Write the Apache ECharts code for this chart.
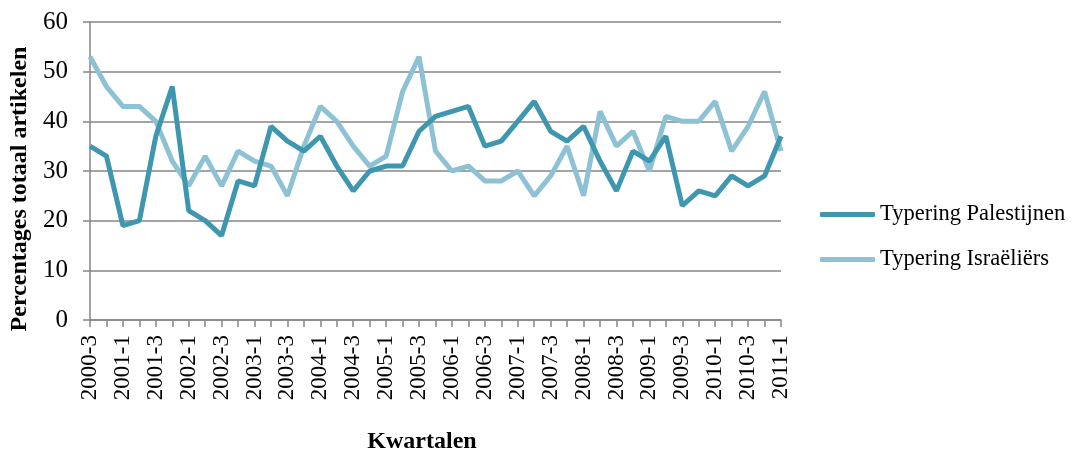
<!DOCTYPE html>
<html>
<head>
<meta charset="utf-8">
<script src="https://cdn.jsdelivr.net/npm/echarts@6/dist/echarts.min.js"></script>
<style>
html,body{margin:0;padding:0;background:#fff;}
#chart{width:1091px;height:457px;}
</style>
</head>
<body>
<div id="chart"></div>
<script>
const years = [2000,2001,2002,2003,2004,2005,2006,2007,2008,2009,2010,2011];
const categories = [];
for (const y of years) {
  for (let q = 1; q <= 4; q++) {
    if (y === 2000 && q < 3) continue;
    if (y === 2011 && q > 1) continue;
    categories.push(y + '-' + q);
  }
}
const palestijnen = [35,33,19,20,37,47,22,20,17,28,27,39,36,34,37,31,26,30,31,31,38,41,42,43,35,36,40,44,38,36,39,32,26,34,32,37,23,26,25,29,27,29,37];
const israeliers  = [53,47,43,43,40,32,27,33,27,34,32,31,25,35,43,40,35,31,33,46,53,34,30,31,28,28,30,25,29,35,25,42,35,38,30,41,40,40,44,34,39,46,34];
const seriesNames = ['Typering Palestijnen', 'Typering Israëliërs'];
const yTicks = [0,10,20,30,40,50,60];

const font = '"Liberation Serif", "DejaVu Serif", serif';
const chart = echarts.init(document.getElementById('chart'));
chart.setOption({
  animation: false,
  backgroundColor: '#ffffff',
  grid: {left: 90, right: 310, top: 22, bottom: 137, containLabel: false, outerBoundsMode: 'none'},
  legend: {
    orient: 'vertical',
    left: 815, top: 198,
    itemWidth: 55, itemHeight: 5, itemGap: 22,
    icon: 'roundRect',
    textStyle: {fontFamily: font, fontSize: 22.5, color: '#000'},
    data: seriesNames
  },
  xAxis: {
    type: 'category',
    data: categories,
    boundaryGap: false,
    name: 'Kwartalen',
    nameLocation: 'middle',
    nameGap: 110,
    nameTextStyle: {fontFamily: font, fontSize: 24, fontWeight: 'bold', color: '#000', padding: [0, 27, 0, 0]},
    axisLine: {lineStyle: {color: '#868686', width: 1.5}},
    axisTick: {show: true, interval: 0, length: 7, lineStyle: {color: '#868686', width: 1.5}},
    axisLabel: {interval: 1, rotate: 90, fontFamily: font, fontSize: 23, color: '#000', margin: 15},
    splitLine: {show: false}
  },
  yAxis: {
    type: 'value',
    min: yTicks[0], max: yTicks[yTicks.length-1], interval: 10,
    name: 'Percentages totaal artikelen',
    nameLocation: 'middle',
    nameGap: 53,
    nameRotate: 90,
    nameTextStyle: {fontFamily: font, fontSize: 24, fontWeight: 'bold', color: '#000', padding: [0, 36, 0, 0]},
    axisLine: {show: true, lineStyle: {color: '#868686', width: 1.5}},
    axisTick: {show: true, length: 7, lineStyle: {color: '#868686', width: 1.5}},
    axisLabel: {fontFamily: font, fontSize: 25, color: '#000', margin: 22},
    splitLine: {show: true, lineStyle: {color: '#868686', width: 1.5}}
  },
  series: [
    {name: seriesNames[0], type: 'line', data: palestijnen, symbol: 'none',
     lineStyle: {color: '#3F97AF', width: 5}, itemStyle: {color: '#3F97AF'}, z: 3},
    {name: seriesNames[1], type: 'line', data: israeliers, symbol: 'none',
     lineStyle: {color: '#8DC1D4', width: 5}, itemStyle: {color: '#8DC1D4'}, z: 2}
  ]
});
</script>
</body>
</html>
